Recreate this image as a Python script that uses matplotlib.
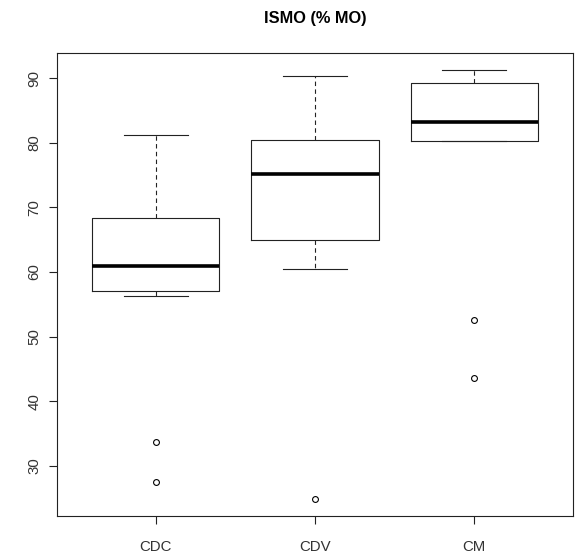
import matplotlib
matplotlib.use("Agg")
import matplotlib.pyplot as plt

# five-number summaries per group (whisker ends, quartiles, median) and outliers
GROUPS = ["CDC", "CDV", "CM"]
WHISK_LO = [56.25, 60.4, 80.3]
Q1 = [57.0, 65.0, 80.3]
MEDIAN = [60.9, 75.1, 83.3]
Q3 = [68.3, 80.4, 89.2]
WHISK_HI = [81.15, 90.35, 91.25]
OUTLIERS = [[33.7, 27.5], [24.9], [52.6, 43.6]]

YTICKS = [30, 40, 50, 60, 70, 80, 90]

plt.rcParams["font.family"] = ["Liberation Sans", "DejaVu Sans"]

stats = []
for i, name in enumerate(GROUPS):
    stats.append({
        "label": name,
        "whislo": WHISK_LO[i],
        "q1": Q1[i],
        "med": MEDIAN[i],
        "q3": Q3[i],
        "whishi": WHISK_HI[i],
        "fliers": OUTLIERS[i],
    })

fig = plt.figure(figsize=(5.78, 5.54), dpi=100)
ax = fig.add_axes([57 / 578, 38 / 554, 516 / 578, 463 / 554])

lw = 0.8
ax.bxp(stats, positions=[1, 2, 3], widths=0.8, capwidths=0.4,
       boxprops=dict(color="#222222", linewidth=lw),
       medianprops=dict(color="black", linewidth=2.6, solid_capstyle="butt"),
       whiskerprops=dict(color="#222222", linewidth=lw, linestyle=(0, (4, 3))),
       capprops=dict(color="#222222", linewidth=lw),
       flierprops=dict(marker="o", markersize=4.2, markerfacecolor="none",
                       markeredgecolor="black", markeredgewidth=0.8))

# R-style 4% padding around the data range
all_vals = WHISK_LO + WHISK_HI + [v for g in OUTLIERS for v in g]
lo, hi = min(all_vals), max(all_vals)
pad = 0.04 * (hi - lo)
ax.set_ylim(lo - pad, hi + pad)
ax.set_xlim(0.38, 3.62)

ax.set_yticks(YTICKS)
ax.set_yticklabels([str(t) for t in YTICKS], rotation=90, va="center")
ax.set_xticks([1, 2, 3])
ax.set_xticklabels(GROUPS)
ax.tick_params(axis="both", length=6, width=0.8, color="#222222",
               labelsize=10.8, labelcolor="#333333", pad=5)
ax.tick_params(axis="x", pad=11)

for sp in ax.spines.values():
    sp.set_linewidth(0.8)
    sp.set_color("#222222")

fig.text(315 / 578, 1 - 18 / 554, "ISMO (% MO)", ha="center", va="center",
         fontsize=11.8, fontweight="bold")

fig.savefig("out.png", dpi=100)
